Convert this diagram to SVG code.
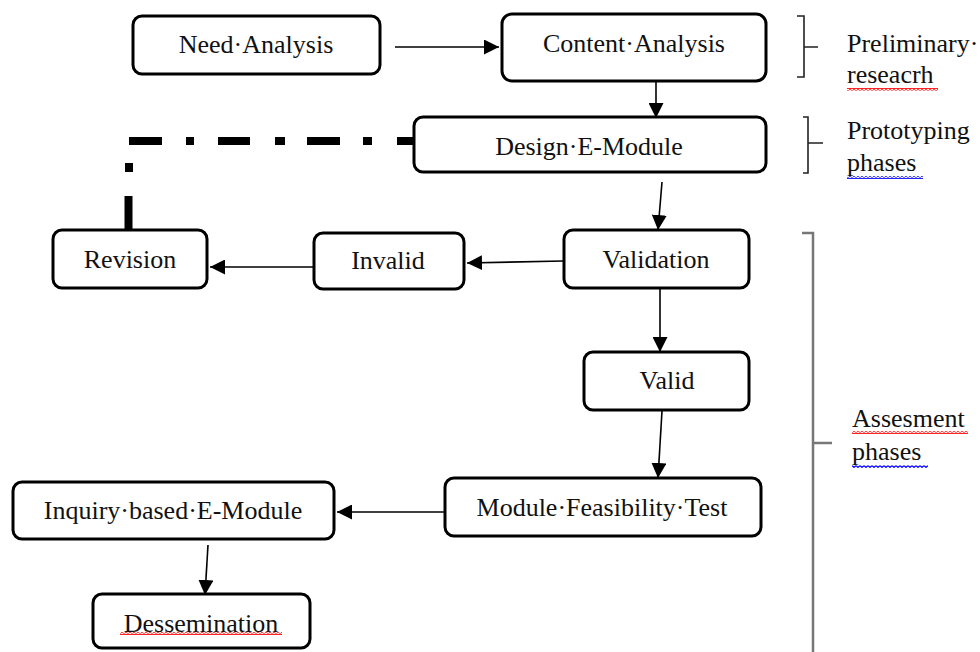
<svg xmlns="http://www.w3.org/2000/svg" width="980" height="652" viewBox="0 0 980 652">
<style>
  .box { fill: #ffffff; stroke: #000000; stroke-width: 3; }
  .lbl { font-family: "Liberation Serif", "Times New Roman", serif; font-size: 26px; fill: #111111; text-anchor: middle; }
  .side { font-family: "Liberation Serif", "Times New Roman", serif; font-size: 26px; fill: #111111; text-anchor: start; }
  .arrow { fill: none; stroke: #000000; stroke-width: 1.6; marker-end: url(#ah); }
  .dashdot { fill: none; stroke: #000000; stroke-width: 8; stroke-linecap: butt; }
  .brk { fill: none; stroke: #222222; stroke-width: 1.6; }
  .brk2 { fill: none; stroke: #777777; stroke-width: 2.5; }
</style>
<defs>
  <marker id="ah" markerUnits="userSpaceOnUse" markerWidth="16" markerHeight="15" refX="15" refY="7.5" orient="auto">
    <path d="M0,0 L15,7.5 L0,15 Z" fill="#000000"/>
  </marker>
  <pattern id="wavyRed" width="4" height="3" patternUnits="userSpaceOnUse">
    <path d="M0,0.7 L2,2.3 L4,0.7" fill="none" stroke="#ff0000" stroke-width="1.3"/>
  </pattern>
  <pattern id="wavyBlue" width="4" height="3" patternUnits="userSpaceOnUse">
    <path d="M0,0.7 L2,2.3 L4,0.7" fill="none" stroke="#0000ff" stroke-width="1.3"/>
  </pattern>
</defs>
<rect width="980" height="652" fill="#ffffff"/>

<g id="connectors">
  <path class="arrow" d="M395,47 H499"/>
  <path class="arrow" d="M656,82 V118"/>
  <path class="arrow" d="M662,182 L658,230"/>
  <path class="arrow" d="M563,261 L467,263"/>
  <path class="arrow" d="M313,267 L210,267"/>
  <path class="arrow" d="M660,289 V352"/>
  <path class="arrow" d="M662,411 L658,478"/>
  <path class="arrow" d="M445,512 L337,512"/>
  <path class="arrow" d="M208,545 L205,595"/>
  <path class="dashdot" d="M413,141 H397 M372,141 H363 M340,141 H307 M285,141 H275 M250,141 H218 M194,141 H186 M162,141 H129 M129,163 V172 M128.5,196 V229"/>
</g>

<g id="need-analysis">
  <rect class="box" x="133" y="16" width="247" height="58" rx="9"/>
  <text class="lbl" x="256" y="53">Need·Analysis</text>
</g>
<g id="content-analysis">
  <rect class="box" x="502" y="14" width="264" height="67" rx="10"/>
  <text class="lbl" x="634" y="52">Content·Analysis</text>
</g>
<g id="design-e-module">
  <rect class="box" x="414" y="117" width="352" height="55" rx="9"/>
  <text class="lbl" x="589" y="155">Design·E-Module</text>
</g>
<g id="revision">
  <rect class="box" x="53" y="230" width="154" height="58" rx="9"/>
  <text class="lbl" x="130" y="268">Revision</text>
</g>
<g id="invalid">
  <rect class="box" x="314" y="233" width="150" height="56" rx="9"/>
  <text class="lbl" x="388" y="269">Invalid</text>
</g>
<g id="validation">
  <rect class="box" x="564" y="230" width="185" height="58" rx="9"/>
  <text class="lbl" x="656" y="268">Validation</text>
</g>
<g id="valid">
  <rect class="box" x="584" y="352" width="165" height="58" rx="9"/>
  <text class="lbl" x="667" y="389">Valid</text>
</g>
<g id="module-feasibility-test">
  <rect class="box" x="445" y="478" width="316" height="58" rx="9"/>
  <text class="lbl" x="602" y="516">Module·Feasibility·Test</text>
</g>
<g id="inquiry-based-e-module">
  <rect class="box" x="13" y="482" width="321" height="57" rx="9"/>
  <text class="lbl" x="173" y="519">Inquiry·based·E-Module</text>
</g>
<g id="dessemination">
  <rect class="box" x="93" y="594" width="217" height="54" rx="9"/>
  <text class="lbl" x="201" y="632">Dessemination</text>
  <rect x="120" y="632" width="162" height="3" fill="url(#wavyRed)"/>
</g>

<g id="preliminary-research">
  <path class="brk" d="M797,16 H804 V77 H797 M804,47 H818"/>
  <text class="side" x="847" y="52">Preliminary·</text>
  <text class="side" x="847" y="83">reseacrh</text>
  <rect x="847" y="88" width="91" height="3" fill="url(#wavyRed)"/>
</g>
<g id="prototyping-phases">
  <path class="brk" d="M803,117 H808 V173 H803 M808,143 H823"/>
  <text class="side" x="847" y="139">Prototyping</text>
  <text class="side" x="847" y="171">phases</text>
  <rect x="847" y="176" width="76" height="3" fill="url(#wavyBlue)"/>
</g>
<g id="assessment-phases">
  <path class="brk2" d="M802,233 H813 V652 M813,443 H832"/>
  <text class="side" x="852" y="427">Assesment</text>
  <rect x="852" y="431" width="116" height="3" fill="url(#wavyRed)"/>
  <text class="side" x="852" y="460">phases</text>
  <rect x="852" y="465" width="76" height="3" fill="url(#wavyBlue)"/>
</g>
</svg>
